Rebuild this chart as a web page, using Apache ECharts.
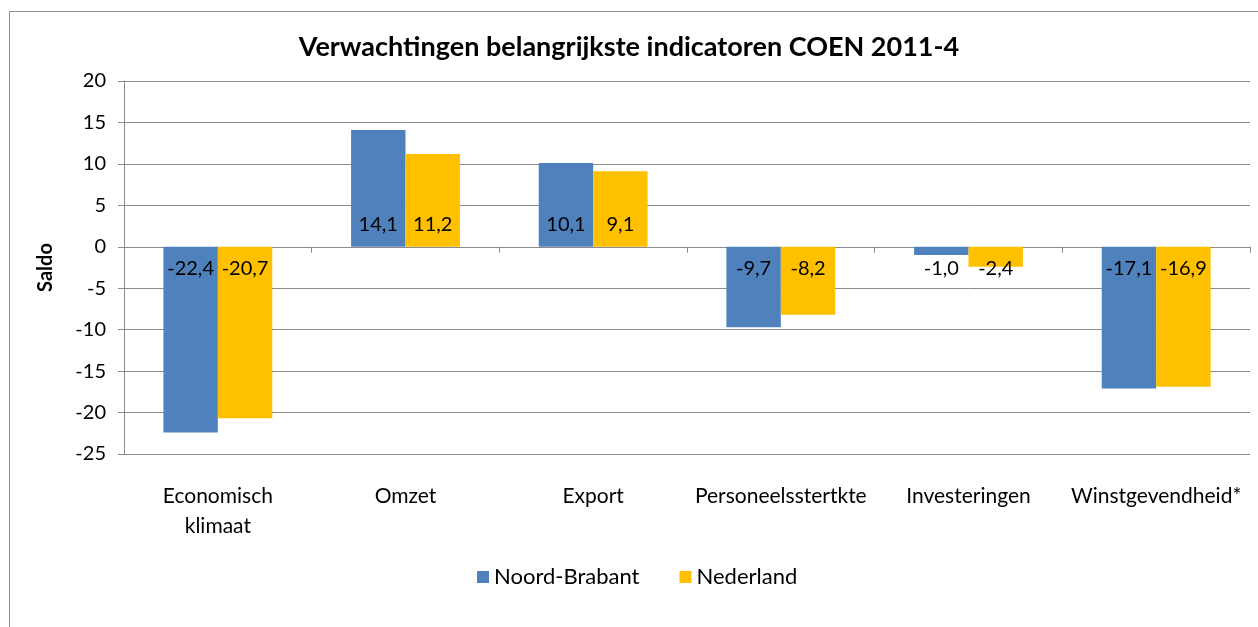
<!DOCTYPE html>
<html>
<head>
<meta charset="UTF-8"/>
<title>Verwachtingen COEN 2011-4</title>
<script src="https://cdn.jsdelivr.net/npm/echarts@6/dist/echarts.min.js"></script>
<style>
  html, body { margin: 0; padding: 0; background: #fff; }
  #chart { width: 1258px; height: 627px; }
</style>
</head>
<body>
<div id="chart"></div>
<script>
// data
var categories = ['Economisch klimaat', 'Omzet', 'Export', 'Personeelsstertkte', 'Investeringen', 'Winstgevendheid*'];
var noordBrabant = [-22.4, 14.1, 10.1, -9.7, -1.0, -17.1];
var nederland = [-20.7, 11.2, 9.1, -8.2, -2.4, -16.9];
var yTicks = { min: -25, max: 20, step: 5 };

var fontFam = 'Lato, "Open Sans", sans-serif';

// label sits near the zero line, like Excel "inside base"
function toItems(values) {
  return values.map(function (v) {
    return {
      value: v,
      label: { position: v < 0 ? 'insideTop' : 'insideBottom' }
    };
  });
}

function fmt(p) {
  return p.value.toFixed(1).replace('.', ',');
}

var chart = echarts.init(document.getElementById('chart'));
var option = {
  animation: false,
  color: ['#4F81BD', '#FFC000'],
  textStyle: { fontFamily: fontFam },
  graphic: [{
    type: 'rect',
    shape: { x: 9.5, y: 11.5, width: 1270, height: 640 },
    style: { fill: 'none', stroke: '#8c8c8c', lineWidth: 1 },
    silent: true
  }],
  title: {
    text: 'Verwachtingen belangrijkste indicatoren COEN 2011-4',
    left: 'center',
    top: 29,
    textStyle: { fontFamily: fontFam, fontSize: 27, fontWeight: 'bold', color: '#000' }
  },
  legend: {
    bottom: 34,
    left: 472,
    icon: 'rect',
    itemWidth: 12,
    itemHeight: 12,
    itemGap: 40,
    textStyle: { fontFamily: fontFam, fontSize: 22, color: '#000' },
    data: ['Noord-Brabant', 'Nederland']
  },
  grid: { left: 124, right: 8, top: 81, bottom: 173 },
  xAxis: [{
    type: 'category',
    data: categories,
    position: 'bottom',
    axisLine: { show: false, onZero: false },
    axisTick: { show: false },
    axisLabel: {
      margin: 27,
      fontSize: 21,
      lineHeight: 30,
      color: '#000',
      fontFamily: fontFam,
      interval: 0,
      formatter: function (v) { return v.replace(' ', '\n'); }
    }
  }, {
    type: 'category',
    data: categories,
    position: 'top',
    axisLine: { show: true, onZero: true, lineStyle: { color: '#8c8c8c' } },
    axisTick: { show: true, inside: true, length: 6, lineStyle: { color: '#8c8c8c' } },
    axisLabel: { show: false }
  }],
  yAxis: {
    type: 'value',
    min: yTicks.min,
    max: yTicks.max,
    interval: yTicks.step,
    name: 'Saldo',
    nameLocation: 'middle',
    nameRotate: 90,
    nameGap: 68,
    nameTextStyle: { fontFamily: fontFam, fontSize: 20, fontWeight: 'bold', color: '#000' },
    axisLine: { show: true, lineStyle: { color: '#8c8c8c' } },
    axisTick: { show: true, length: 6, lineStyle: { color: '#8c8c8c' } },
    axisLabel: { margin: 18, fontSize: 20, color: '#000', fontFamily: fontFam },
    splitLine: { lineStyle: { color: '#8c8c8c' } }
  },
  series: [{
    name: 'Noord-Brabant',
    type: 'bar',
    barGap: '0%',
    barCategoryGap: '42%',
    data: toItems(noordBrabant),
    label: { show: true, distance: 12, fontSize: 20, color: '#000', fontFamily: fontFam, formatter: fmt }
  }, {
    name: 'Nederland',
    type: 'bar',
    barGap: '0%',
    barCategoryGap: '42%',
    data: toItems(nederland),
    label: { show: true, distance: 12, fontSize: 20, color: '#000', fontFamily: fontFam, formatter: fmt }
  }]
};
chart.setOption(option);
</script>
</body>
</html>
